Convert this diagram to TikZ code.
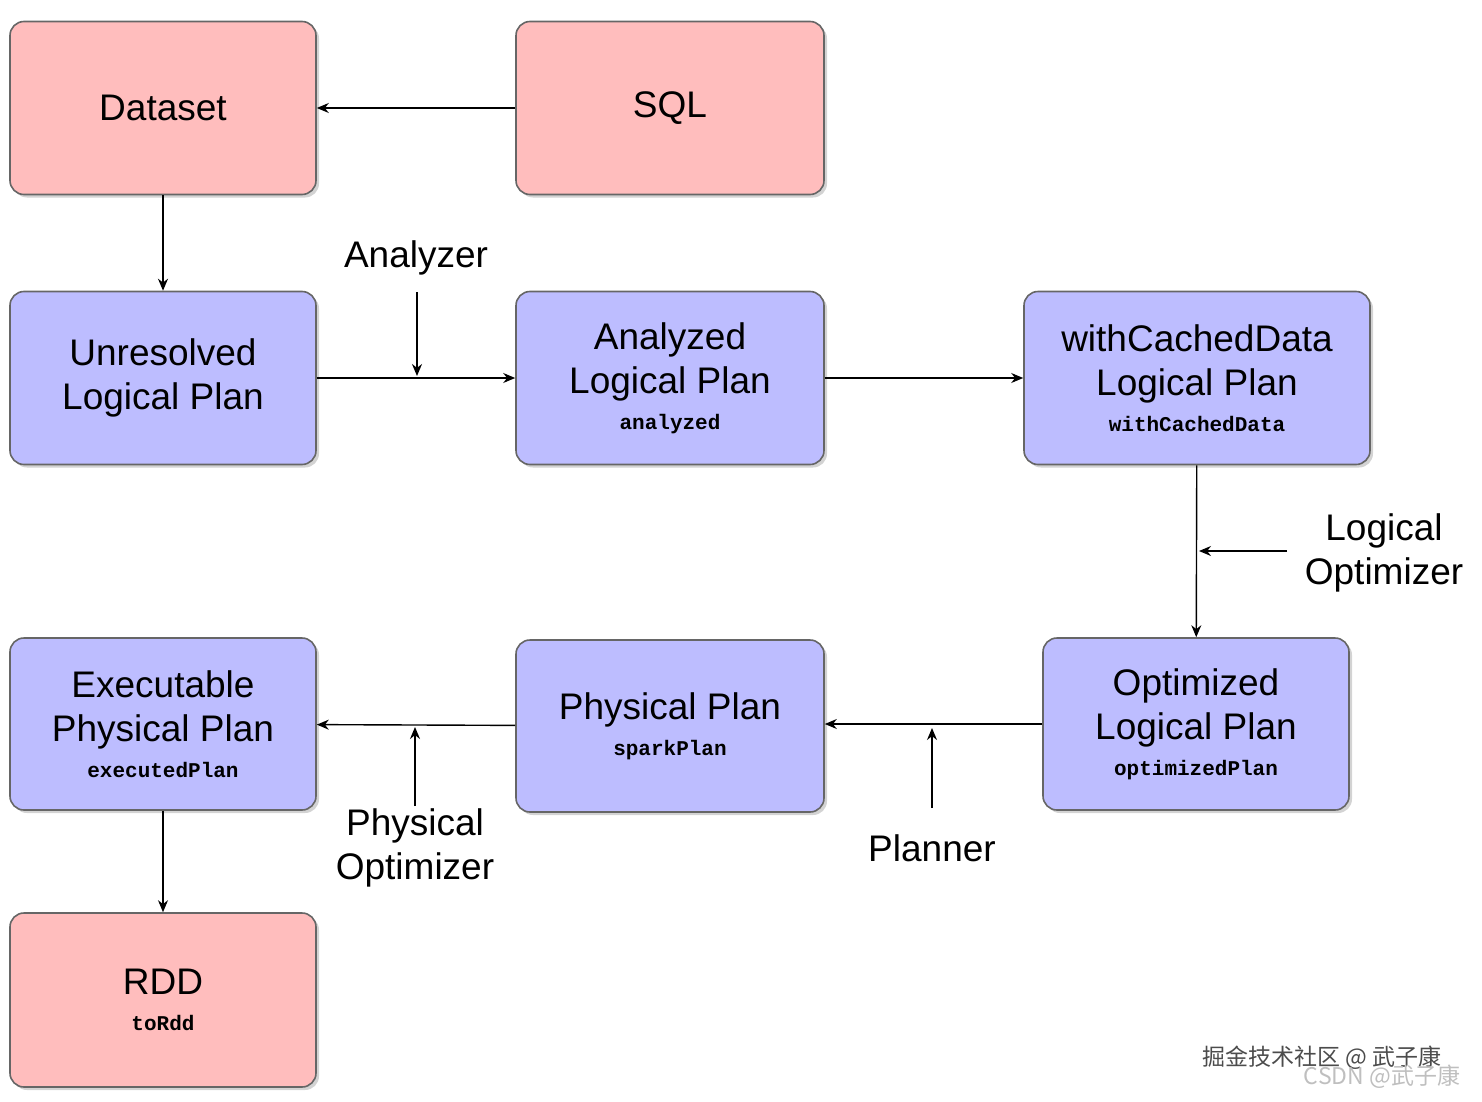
\documentclass[tikz,border=0pt]{standalone}
\usepackage{fontspec}
\setmainfont{Liberation Sans}
\setmonofont{Liberation Mono}
\newfontfamily\cjk{Noto Sans CJK SC}
\usetikzlibrary{shadows,arrows.meta}
\begin{document}
\begin{tikzpicture}[x=0.5pt,y=-0.5pt,
 box/.style={draw=black!60,line width=0.8pt,rounded corners=7pt,align=center,font=\fontsize{18.5}{22}\selectfont,drop shadow={shadow xshift=1.5pt,shadow yshift=-1.5pt,opacity=0.35}},
 pink/.style={box,fill={rgb,255:red,255;green,189;blue,189}},
 blue/.style={box,fill={rgb,255:red,189;green,189;blue,255}},
 arr/.style={-{Stealth[length=6pt,width=5pt]},line width=0.7pt},
 lbl/.style={font=\fontsize{18.5}{22}\selectfont,align=center}]
\useasboundingbox (0,0) rectangle (1482,1102);
\newcommand\bx[6]{\node[#1,minimum width=#4*0.5pt,minimum height=#5*0.5pt] (#2) at (#3) {#6};}
\newcommand\mn[1]{\\[-4pt]{\ttfamily\bfseries\fontsize{10.5}{11}\selectfont #1}}
\bx{pink}{ds}{163,108}{306}{173}{Dataset}
\bx{pink}{sql}{670,108}{308}{173}{SQL}
\bx{blue}{un}{163,378}{306}{173}{Unresolved\\Logical Plan}
\bx{blue}{an}{670,378}{308}{173}{Analyzed\\Logical Plan\mn{analyzed}}
\bx{blue}{wc}{1197,378}{346}{173}{withCachedData\\Logical Plan\mn{withCachedData}}
\bx{blue}{op}{1196,724}{306}{172}{Optimized\\Logical Plan\mn{optimizedPlan}}
\bx{blue}{ph}{670,726}{308}{172}{Physical Plan\mn{sparkPlan}}
\bx{blue}{ex}{163,724}{306}{172}{Executable\\Physical Plan\mn{executedPlan}}
\bx{pink}{rdd}{163,1000}{306}{174}{RDD\mn{toRdd}}
\draw[arr] (sql) -- (ds);
\draw[arr] (ds) -- (un);
\draw[arr] (un) -- (an);
\draw[arr] (an) -- (wc);
\draw[arr] (wc) -- (op);
\draw[arr] (op.west) -- (ph.east|-op.west);
\draw[arr] (ph) -- (ex);
\draw[arr] (ex) -- (rdd);
\node[lbl] (tA) at (416,258) {Analyzer};
\coordinate (a1) at (417,292); \coordinate (a2) at (417,376);
\draw[arr] (a1) -- (a2);
\node[lbl] (tL) at (1384,553) {Logical\\Optimizer};
\coordinate (l1) at (1287,551); \coordinate (l2) at (1199,551);
\draw[arr] (l1) -- (l2);
\node[lbl] (tP) at (932,848) {Planner};
\coordinate (p1) at (932,808); \coordinate (p2) at (932,728);
\draw[arr] (p1) -- (p2);
\node[lbl] (tPO) at (415,848) {Physical\\Optimizer};
\coordinate (q1) at (415,806); \coordinate (q2) at (415,727);
\draw[arr] (q1) -- (q2);
\node[font=\cjk\fontsize{11.5}{12}\selectfont,text=black!70] (w1) at (1322,1058) {掘金技术社区 @ 武子康};
\node[font=\cjk\fontsize{11.5}{12}\selectfont,text=black!25] (w2) at (1382,1077) {CSDN @武子康};
\end{tikzpicture}
\end{document}
